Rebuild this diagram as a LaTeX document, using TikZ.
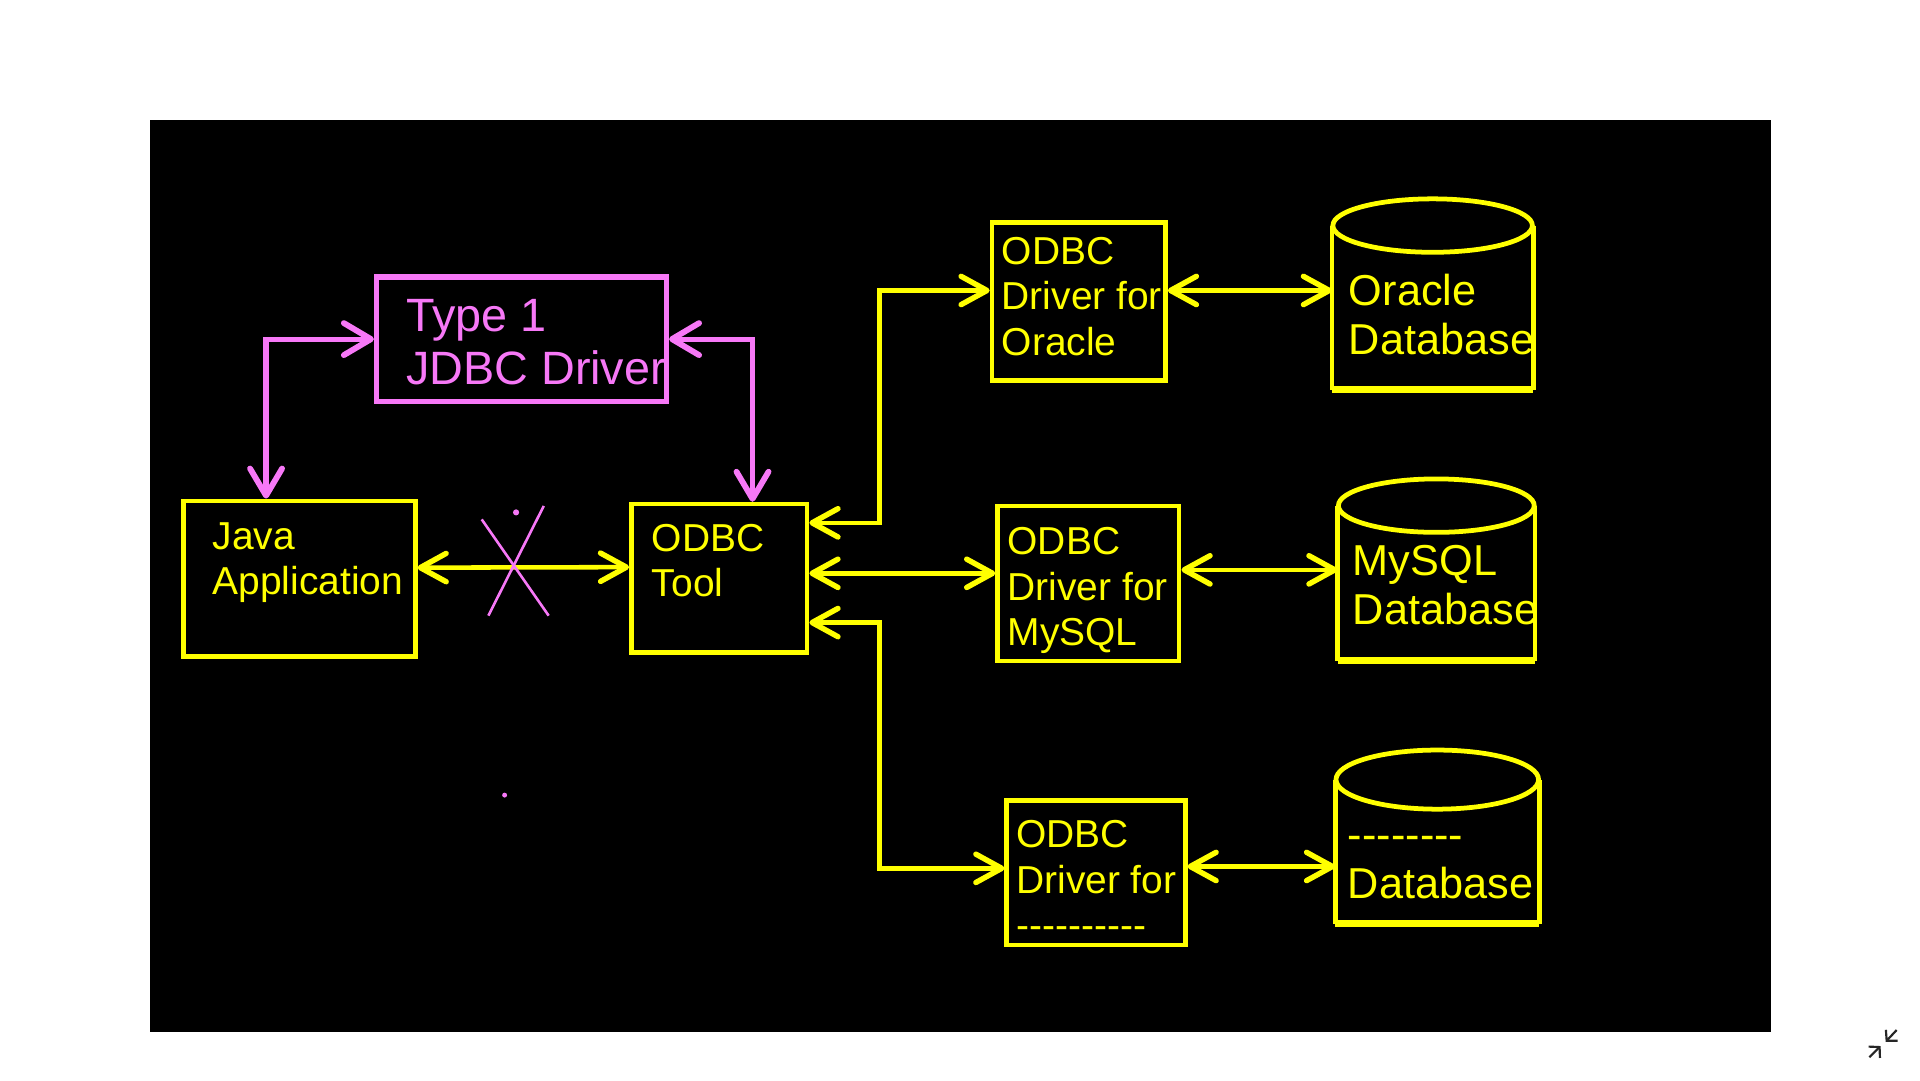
\documentclass[tikz,border=0pt]{standalone}
\usepackage{fontspec}
\setmainfont{Liberation Sans}[Ligatures=TeXOff]
\usetikzlibrary{arrows.meta}

\definecolor{ylw}{RGB}{255,255,0}
\definecolor{pnk}{RGB}{247,120,247}

\tikzstyle{ybox} = [draw=ylw,line width=1.05pt,inner sep=0pt]
\tikzstyle{pbox} = [draw=pnk,line width=1.2pt,inner sep=0pt]
\tikzstyle{dbnode} = [inner sep=0pt]
\tikzstyle{dbline} = [draw=ylw,line width=1.1pt]
\tikzstyle{ytext} = [text=ylw,anchor=north west,inner sep=0pt,align=left,font=\fontsize{9}{10.5}\selectfont]
\tikzstyle{dbtext} = [ytext,font=\fontsize{10}{11.4}\selectfont]
\tikzstyle{ptext} = [text=pnk,anchor=north west,inner sep=0pt,align=left,font=\fontsize{10.8}{12.3}\selectfont]
\tikzstyle{ylink} = [draw=ylw,line width=1.05pt,line cap=round,>={Straight Barb[length=2.1mm,width=2.3mm,line width=1.25pt,round]},<->]
\tikzstyle{plink} = [draw=pnk,line width=1.2pt,line cap=round,>={Straight Barb[length=2.2mm,width=2.6mm,line width=1.35pt,round]},<->]

\begin{document}
\begin{tikzpicture}[x=0.01cm,y=-0.01cm]
	\useasboundingbox (0,0) rectangle (1560,877.5);
	\fill[white] (0,0) rectangle (1560,877.5);
	\fill[black] (121.9,97.5) rectangle (1438.7,838.2);
	% boxes
	\node[pbox,minimum width=2.355cm,minimum height=1.01cm] (type1) at (423.7,275.5) {};
	\node[ybox,minimum width=1.884cm,minimum height=1.265cm] (java) at (243.2,470.2) {};
	\node[ybox,minimum width=1.427cm,minimum height=1.205cm] (tool) at (584.4,469.8) {};
	\node[ybox,minimum width=1.41cm,minimum height=1.28cm] (oradrv) at (876.5,245) {};
	\node[ybox,minimum width=1.475cm,minimum height=1.26cm] (mydrv) at (884.3,474) {};
	\node[ybox,minimum width=1.45cm,minimum height=1.175cm] (xdrv) at (890.5,709) {};
	% databases
	\node[dbnode,minimum width=1.62cm,minimum height=1.32cm] (oradb) at (1164,250) {};
	\node[dbnode,minimum width=1.59cm,minimum height=1.245cm] (mydb) at (1167,473.8) {};
	\node[dbnode,minimum width=1.645cm,minimum height=1.157cm] (xdb) at (1167.8,692) {};
	\foreach \db/\rx/\ry in {oradb/0.81/0.217,mydb/0.795/0.217,xdb/0.8225/0.24} {
		\draw[dbline] (\db.north west) -- (\db.south west);
		\draw[dbline] (\db.north east) -- (\db.south east);
		\draw[dbline,line width=1.6pt] (\db.south west) -- (\db.south east);
		\draw[dbline] (\db.north) ellipse [x radius=\rx cm,y radius=\ry cm];
	}
	% texts
	\node[ptext] (type1text) at (329.4,242.4) {Type 1\\JDBC Driver};
	\node[ytext] (javatext) at (172,424) {Java\\Application};
	\node[ytext] (tooltext) at (529,425.2) {ODBC\\Tool};
	\node[ytext] (oradrvtext) at (813.3,191.8) {ODBC\\Driver for\\Oracle};
	\node[ytext] (mydrvtext) at (818,428) {ODBC\\Driver for\\MySQL};
	\node[ytext] (xdrvtext) at (825,666) {ODBC\\Driver for\\----------};
	\node[dbtext] (oradbtext) at (1095.3,222) {Oracle\\Database};
	\node[dbtext] (mydbtext) at (1098.5,442) {MySQL\\Database};
	\node[dbtext] (xdbtext) at (1094.5,665) {\vphantom{D}--------\\Database};
	% links
	\draw[plink] ([xshift=-0.27cm]java.north) |- (type1.west);
	\draw[plink] ([xshift=0.27cm]tool.north) |- (type1.east);
	\draw[ylink] ([yshift=0.09cm]java.east) -- ([yshift=0.09cm]tool.west);
	\draw[ylink] ([yshift=0.45cm]tool.east) -- ++(0.57cm,0) |- ([yshift=0.09cm]oradrv.west);
	\draw[ylink] ([yshift=0.04cm]tool.east) -- ([yshift=0.04cm]tool.east -| mydrv.west);
	\draw[ylink] ([yshift=-0.36cm]tool.east) -- ++(0.57cm,0) |- ([yshift=0.035cm]xdrv.west);
	\draw[ylink] ([yshift=0.09cm]oradrv.east) -- ([yshift=0.09cm]oradrv.east -| oradb.west);
	\draw[ylink] ([yshift=0.11cm]mydrv.east) -- ([yshift=0.11cm]mydrv.east -| mydb.west);
	\draw[ylink] ([yshift=0.05cm]xdrv.east) -- ([yshift=0.05cm]xdrv.east -| xdb.west);
	% cross mark
	\draw[pnk,line width=0.6pt] (391.4,422) -- (445.8,500.2);
	\draw[pnk,line width=0.6pt] (441.8,411.1) -- (396.8,500.2);
	\fill[pnk] (419.3,416.3) circle (0.025cm);
	\fill[pnk] (410,646) circle (0.02cm);
	% corner icon
	\draw[black!85,line width=0.5pt,-{Straight Barb[length=0.6mm,width=1.3mm]}] (1518.8,859) -- (1528,849.9);
	\draw[black!85,line width=0.5pt,-{Straight Barb[length=0.6mm,width=1.3mm]}] (1541,836.9) -- (1532.1,846.4);
\end{tikzpicture}
\end{document}
